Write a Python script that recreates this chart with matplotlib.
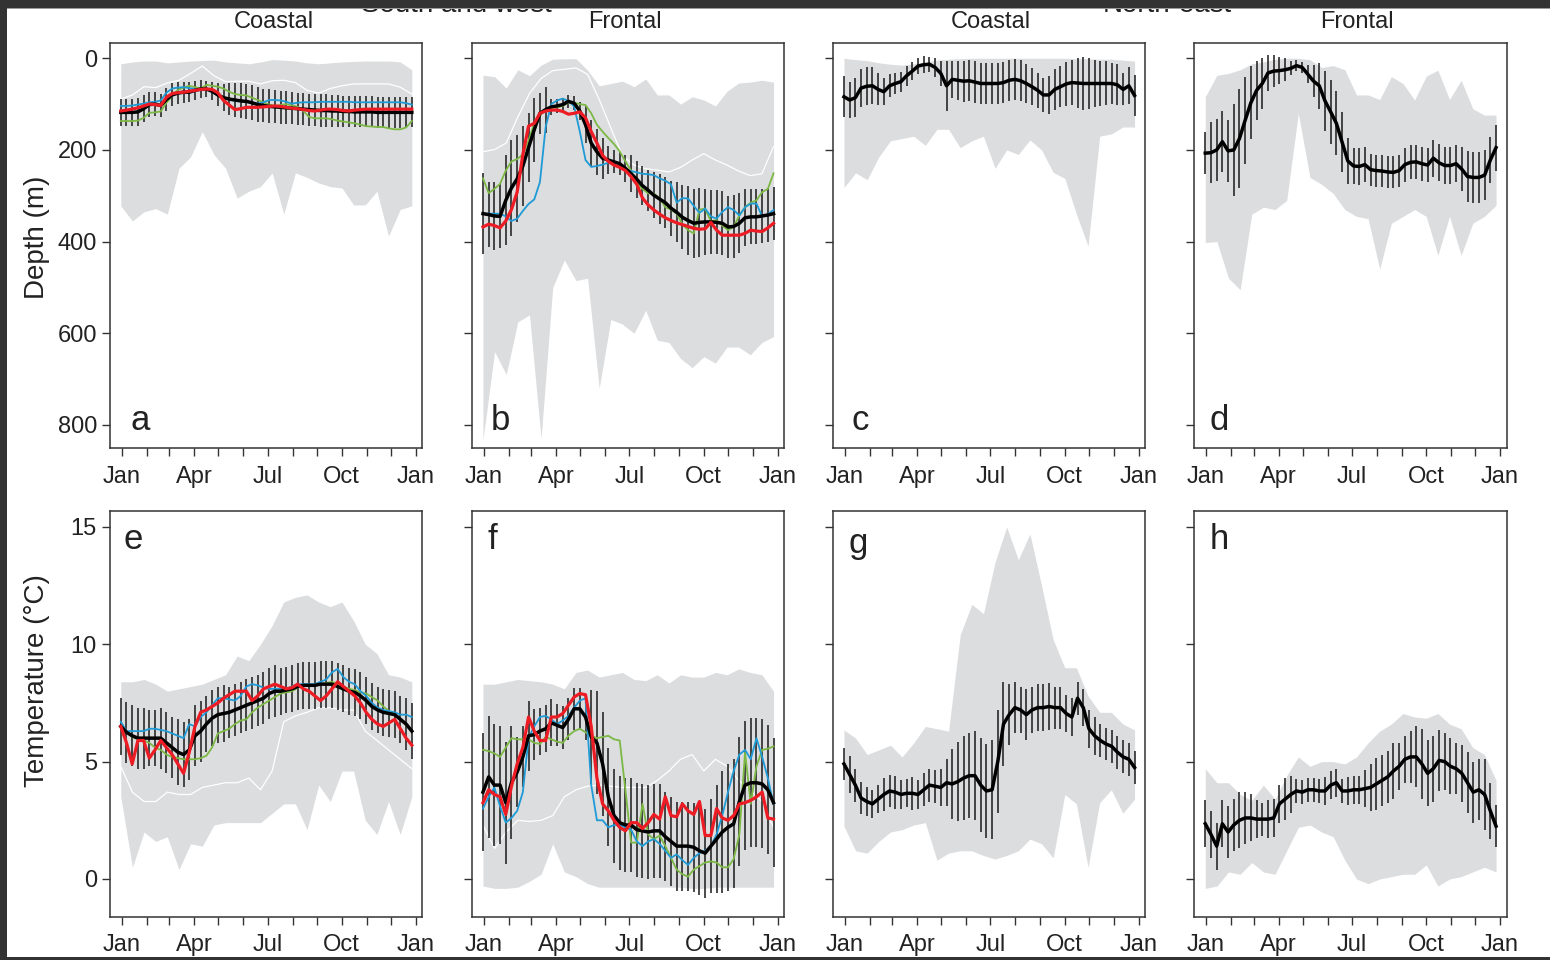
import numpy as np
import matplotlib
matplotlib.use('Agg')
import matplotlib.pyplot as plt
from matplotlib.patches import Rectangle

plt.rcParams['font.family'] = ['Liberation Sans', 'DejaVu Sans']

# ---------------- data ----------------
month_days = [0, 31, 59, 90, 120, 151, 181, 212, 243, 273, 304, 334, 365]
month_labels = ['Jan', '', '', 'Apr', '', '', 'Jul', '', '', 'Oct', '', '', 'Jan']
col_titles = ['Coastal', 'Frontal', 'Coastal', 'Frontal']
region_titles = ['South and west', 'North-east']
panel_letters = ['a', 'b', 'c', 'd', 'e', 'f', 'g', 'h']
depth_ticks = [0, 200, 400, 600, 800]
temp_ticks = [0, 5, 10, 15]

# weekly (52) black mean and error half-widths; biweekly (26) envelopes and white lines
# ---- a: depth, south & west coastal
black_a = [118,118,118,117,110,101,100,103,90,80, 76,74,74,70,67,67,72,80,86,89,
           91,93,94,97,101,103,105,106,107,108, 109,110,111,112,113,114,114,115,115,116,
           116,117,117,117,117,118,118,118,118,118, 118,118]
err_a = [30,30,30,30,29,28,27,26,25,25, 24,23,22,20,19,18,20,25,30,35,
         38,38,38,38,38,37,37,36,36,36, 35,35,35,35,35,35,35,35,34,34,
         34,34,34,34,34,34,34,34,34,34, 33,33]
blue_a = [104,104,103,101,99,96,95,92,75,66, 64,63,65,67,67,67,72,80,87,90,
          93,94,95,96,99,96,91,91,92,95, 99,97,96,96,96,95,95,95,95,95,
          95,96,96,96,96,96,96,96,96,96, 98,101]
green_a = [137,137,137,136,130,119,118,116,97,82, 69,64,60,63,66,58,60,62,66,73,
           78,80,81,86,91,96,101,104,102,100, 103,106,115,128,131,131,131,133,136,138,
           140,142,145,148,149,150,150,153,155,155, 151,137]
red_a = [115,113,111,108,104,100,101,103,85,77, 75,74,72,70,68,67,68,75,92,102,
         112,110,107,107,107,106,105,104,105,107, 109,110,112,114,115,113,111,111,112,114,
         115,113,112,111,111,111,111,111,111,111, 111,111]
white_a = [89,80,62,64,54,48,33,17,38,51, 50,50,56,49,48,53,70,76,66,60, 56,56,56,56,63,78]
lo_a = [12,8,6,6,10,8,6,5,4,8, 10,12,8,3,4,6,10,12,10,8, 7,6,6,6,8,25]
hi_a = [322,355,335,328,340,240,215,160,210,240, 305,290,280,250,340,250,260,272,280,283,
        320,320,290,388,330,322]

# ---- b: depth, south & west frontal
black_b = [339,341,344,345,310,283,263,235,195,156, 120,112,106,104,101,94,98,115,145,185,
           204,218,222,226,230,240,252,264,278,288, 299,307,315,327,336,347,354,360,358,357,
           357,358,360,368,367,360,348,346,346,344, 342,339]
err_b = [88,70,75,70,98,105,95,88,75,70, 45,50,18,15,15,14,15,20,40,50,
         50,45,30,25,25,30,40,40,42,45, 50,55,55,60,65,70,75,75,75,72,
         70,70,70,68,68,65,62,60,60,58, 58,58]
blue_b = [339,339,339,339,345,355,350,333,318,308, 270,150,100,92,88,93,105,160,222,237,
          235,232,228,230,238,243,246,249,252,253, 255,262,267,275,315,305,306,322,337,328,
          345,350,335,325,331,343,325,317,317,345, 340,331]
green_b = [262,294,285,274,245,225,220,210,180,142, 125,112,108,107,104,97,97,100,102,120,
           145,160,174,187,203,225,245,272,285,295, 295,305,325,330,339,362,375,382,330,328,
           356,353,365,375,368,343,325,315,310,292, 285,251]
red_b = [368,362,365,370,355,330,292,210,148,142, 120,115,113,113,116,122,120,117,130,160,
         185,212,225,233,238,245,258,275,305,320, 331,340,348,354,359,363,367,371,373,372,
         358,375,386,386,386,386,382,375,377,378, 370,360]
white_b = [204,199,185,128,77,44,27,24,21,35, 90,152,213,233,241,244,248,238,222,208,
           222,233,246,256,252,193]
lo_b = [37,40,65,25,38,15,2,1,1,26, 60,55,50,62,45,80,80,100,84,91, 104,72,54,52,48,52]
hi_b = [833,640,690,575,560,830,500,440,485,480, 720,570,580,600,550,615,620,655,675,651,
        665,630,630,647,620,607]

# ---- c: depth, north-east coastal
black_c = [84,91,86,65,61,60,68,73,60,55, 51,38,28,17,14,13,20,33,60,46,
           48,50,49,52,55,55,55,55,53,48, 46,49,55,62,70,80,80,68,62,56,
           53,54,55,55,55,55,55,55,58,68, 60,81]
err_c = [45,40,42,42,42,40,35,30,25,22, 22,22,20,18,18,16,20,28,55,40,
         42,45,45,45,45,45,45,45,45,45, 45,45,42,40,38,38,42,45,45,48,
         50,55,58,55,52,50,48,45,45,35, 40,45]
lo_c = [0,3,5,10,13,15,12,8,4,2, 1,0,0,0,0,0,0,0,0,0, 1,1,2,2,4,6]
hi_c = [282,250,265,215,180,175,170,190,155,155, 195,180,170,240,200,210,178,200,249,262,
        340,410,170,165,150,150]

# ---- d: depth, north-east frontal
black_d = [207,206,200,182,202,200,175,135,97,70, 55,32,28,27,25,22,16,20,35,50,
           60,93,117,142,183,224,235,236,232,243, 245,246,248,249,245,232,227,226,230,233,
           218,228,234,234,230,242,258,260,260,255, 222,195]
err_d = [46,67,67,67,67,100,107,95,80,65, 55,40,35,30,25,15,12,12,20,35,
         50,65,70,70,65,50,40,40,38,35, 35,35,35,35,35,37,37,37,37,37,
         40,40,40,40,40,48,55,55,55,55, 50,50]
lo_d = [84,37,33,25,12,8,2,0,0,3, 20,16,25,80,80,90,40,55,91,39, 26,90,48,110,124,124]
hi_d = [402,400,480,505,340,325,330,310,120,260, 275,295,330,345,350,460,360,345,330,345,
        430,345,430,360,345,321]

# ---- e: temperature, south & west coastal
black_e = [6.5,6.25,6.1,6.0,6.0,6.0,6.0,6.0,5.8,5.6, 5.4,5.3,5.5,6.1,6.3,6.6,6.85,7.0,7.05,7.1,
           7.2,7.3,7.4,7.5,7.6,7.7,7.9,8.0,8.0,8.05, 8.1,8.2,8.25,8.25,8.25,8.3,8.3,8.3,8.2,8.1,
           8.0,7.95,7.8,7.6,7.35,7.2,7.1,7.05,7.0,6.8, 6.6,6.3]
err_e = [1.2,1.3,1.3,1.3,1.3,1.2,1.2,1.3,1.3,1.3, 1.4,1.4,1.3,1.3,1.3,1.2,1.2,1.2,1.2,1.1,
         1.1,1.1,1.1,1.1,1.1,1.1,1.1,1.1,1.0,1.0, 1.0,1.0,1.0,1.0,1.0,1.0,1.0,1.0,1.0,1.0,
         1.0,1.0,1.0,1.0,1.0,1.0,1.0,1.0,1.0,1.0, 1.1,1.2]
blue_e = [6.7,6.3,6.3,6.3,6.3,6.4,6.4,6.35,6.3,6.2, 6.1,6.0,6.6,6.5,6.9,7.1,7.4,7.7,7.7,7.65,
          7.6,7.8,8.2,8.3,8.25,8.15,8.1,8.1,8.1,8.1, 8.2,8.3,8.3,8.3,8.3,8.4,8.5,8.8,8.95,8.6,
          8.4,8.3,8.0,7.8,7.5,7.3,7.2,7.15,7.1,7.0, 7.0,6.9]
green_e = [6.5,6.3,6.05,5.95,5.9,5.8,5.6,5.5,5.3,5.2, 5.15,5.1,5.1,5.1,5.15,5.25,5.6,6.2,6.3,6.4,
           6.6,6.75,6.8,7.1,7.3,7.45,7.6,7.75,7.9,7.95, 8.0,8.15,8.3,8.25,8.25,8.3,8.35,8.4,8.3,8.2,
           8.1,8.05,7.95,7.9,7.75,7.6,7.35,7.15,7.0,6.8, 6.55,6.3]
red_e = [6.5,5.8,4.9,5.9,5.9,5.15,5.5,5.9,5.6,5.3, 4.9,4.5,5.4,6.5,7.1,7.2,7.35,7.5,7.7,7.85,
         8.0,8.0,8.0,7.6,7.8,8.1,8.2,8.3,8.2,8.1, 8.15,8.3,8.1,8.0,7.8,7.6,7.8,8.1,8.4,8.2,
         8.0,7.8,7.5,7.1,6.8,6.6,6.5,6.65,6.8,6.4, 6.0,5.7]
white_e = [4.8,3.7,3.3,3.3,3.7,3.6,3.6,3.9,4.0,4.1, 4.1,4.3,3.8,4.6,6.7,6.95,7.1,7.3,7.3,7.2,
           7.2,6.3,5.9,5.5,5.1,4.7]
lo_e = [3.5,0.5,2.0,1.6,1.8,0.4,1.5,1.4,2.3,2.4, 2.4,2.4,2.4,2.8,3.2,3.2,2.1,4.0,3.3,4.6,
        4.6,2.5,1.9,3.3,1.9,3.5]
hi_e = [8.4,8.4,8.5,8.3,8.0,8.1,8.2,8.3,8.5,8.7, 9.5,9.3,10.0,10.8,11.8,12.0,12.1,11.8,11.6,11.8,
        11.0,10.0,9.6,8.7,8.6,8.4]

# ---- f: temperature, south & west frontal
black_f = [3.7,4.35,4.0,4.0,3.25,4.1,4.55,5.2,6.1,6.15, 6.3,6.4,6.65,6.55,6.45,6.8,7.25,7.25,6.9,6.05,
           5.8,4.9,3.5,2.7,2.4,2.3,2.3,2.1,2.05,2.0, 2.05,2.05,1.8,1.6,1.4,1.4,1.4,1.35,1.2,1.1,
           1.4,1.7,2.0,2.2,2.35,3.3,4.0,4.1,4.1,4.05, 3.8,3.25]
err_f = [2.5,2.6,2.6,2.5,2.6,2.4,1.5,1.3,1.5,1.1, 1.0,1.0,1.0,0.9,0.9,0.9,0.9,0.9,1.0,2.0,
         2.2,2.2,2.1,2.0,2.0,2.0,2.0,2.0,2.0,2.0, 2.0,2.0,1.9,1.9,1.9,1.9,1.9,1.9,1.9,1.9,
         2.0,2.3,2.6,2.7,2.75,2.75,2.75,2.75,2.75,2.75, 2.75,2.75]
blue_f = [3.0,3.5,3.9,3.1,2.4,2.6,2.9,3.7,6.0,6.5, 6.9,6.95,6.8,6.6,6.75,6.95,7.3,7.6,7.7,4.0,
          2.5,2.5,2.2,2.3,2.3,2.2,2.1,1.6,1.4,1.6, 1.7,1.5,1.2,0.9,1.05,0.8,0.6,0.9,1.1,1.2,
          1.4,1.9,2.7,3.7,4.6,5.3,5.5,5.1,6.0,5.2, 4.3,3.2]
green_f = [5.5,5.45,5.35,5.2,5.6,6.0,5.95,5.95,5.95,5.8, 5.75,6.05,5.95,5.85,5.8,6.1,6.3,6.4,6.25,6.1,
           6.0,6.05,6.1,5.95,5.9,3.8,1.55,1.55,3.2,1.9, 1.7,1.85,1.4,0.9,0.4,0.2,0.1,0.4,0.55,0.7,
           0.75,0.7,0.5,0.5,0.85,1.9,5.4,3.2,4.8,5.5, 5.55,5.65]
red_f = [3.25,3.8,3.6,3.5,2.75,3.95,4.9,5.6,6.9,6.3, 5.9,5.9,6.9,6.9,7.05,7.4,7.75,7.9,7.85,6.5,
         4.3,3.2,2.9,2.5,2.2,2.05,2.4,2.4,2.15,2.4, 2.75,2.55,3.5,2.7,2.65,3.2,2.9,2.75,3.3,1.85,
         1.85,3.0,2.6,2.5,2.7,3.2,3.25,3.35,3.5,3.7, 2.6,2.55]
white_f = [2.3,1.3,2.0,2.5,2.45,2.5,2.7,3.5,3.8,3.95, 4.0,3.95,3.9,3.9,3.9,4.2,4.6,5.1,5.3,4.6,
           5.1,4.8,4.2,3.8,3.3,2.2]
lo_f = [-0.3,-0.4,-0.4,-0.35,-0.1,0.2,1.5,0.3,0.1,-0.2, -0.35,-0.35,-0.35,-0.35,-0.35,-0.35,
        -0.35,-0.35,-0.4,-0.4, -0.35,-0.35,-0.35,-0.35,-0.35,-0.35]
hi_f = [8.3,8.3,8.4,8.5,8.45,8.4,8.3,8.1,8.8,8.9, 8.6,8.7,8.8,8.5,8.45,8.7,8.35,8.7,8.6,8.6,
        8.8,8.7,8.95,8.8,8.7,8.0]

# ---- g: temperature, north-east coastal
black_g = [4.9,4.45,4.0,3.45,3.3,3.2,3.4,3.6,3.75,3.7, 3.6,3.65,3.65,3.6,3.8,4.0,3.95,3.9,4.1,4.05,
           4.15,4.3,4.4,4.4,4.0,3.75,3.8,5.0,6.6,7.0, 7.3,7.2,7.0,7.2,7.3,7.3,7.35,7.3,7.3,7.05,
           6.9,7.7,7.3,6.4,6.1,5.9,5.75,5.65,5.4,5.2, 5.1,4.75]
err_g = [0.7,0.8,0.7,0.7,0.6,0.6,0.6,0.7,0.7,0.7, 0.6,0.6,0.7,0.6,0.7,0.7,0.7,0.8,1.0,1.5,
         1.7,1.8,1.8,1.9,2.0,2.0,2.1,2.2,1.8,1.3, 1.1,1.0,1.1,1.0,1.0,1.0,1.0,0.9,0.9,0.8,
         0.8,0.7,0.8,0.8,0.8,0.7,0.7,0.7,0.7,0.7, 0.7,0.7]
lo_g = [2.25,1.2,1.1,1.6,2.0,2.1,2.3,2.4,0.8,1.1, 1.2,1.2,1.0,0.85,1.0,1.2,1.7,1.5,0.9,3.6,
        3.2,0.5,3.25,3.8,2.8,3.4]
hi_g = [6.35,6.0,5.3,5.5,5.7,5.2,5.8,6.5,6.4,6.3, 10.4,11.7,11.3,13.5,15.0,13.6,14.7,12.5,10.2,9.0,
        9.0,7.8,7.1,7.1,6.6,6.35]

# ---- h: temperature, north-east frontal
black_h = [2.35,1.9,1.4,2.35,2.0,2.3,2.5,2.6,2.6,2.55, 2.55,2.55,2.6,3.2,3.4,3.6,3.75,3.7,3.8,3.8,
           3.75,3.75,4.0,4.1,3.75,3.75,3.8,3.8,3.85,3.9, 4.05,4.2,4.35,4.6,4.8,5.1,5.2,5.2,4.9,4.5,
           4.7,5.05,5.0,4.8,4.7,4.5,4.1,3.7,3.8,3.6, 2.9,2.25]
err_h = [1.0,1.0,1.0,1.0,1.1,1.1,1.2,1.1,1.0,0.8, 0.7,0.8,0.8,0.8,0.9,0.8,0.5,0.5,0.5,0.5,
         0.5,0.6,0.6,0.6,0.5,0.6,0.6,0.6,0.8,1.0, 1.1,1.1,1.1,1.2,1.0,1.0,1.1,1.3,1.5,1.4,
         1.4,1.3,1.2,1.2,1.1,1.2,1.3,1.3,1.3,1.5, 1.2,0.9]
lo_h = [-0.4,-0.3,0.3,0.2,0.7,0.3,0.2,1.2,2.2,2.3, 2.0,1.8,0.8,0.0,-0.2,0.0,0.1,0.2,0.2,0.6,
        -0.3,0.0,0.1,0.3,0.5,0.3]
hi_h = [4.7,4.1,4.1,3.6,3.35,4.0,3.4,4.4,5.2,4.8, 5.0,5.0,4.9,5.2,5.8,6.3,6.6,7.05,6.9,6.85,
        7.05,6.6,6.4,5.6,5.3,4.2]

# ---------------- styles / layout ----------------
W, H = 1550, 960
GRAY = '#dcdddf'
BLUE = '#1e9ad6'
GREEN = '#7cb844'
RED = '#ed1c24'
SPINE = '#333333'

week_x = np.linspace(-1, 360, 52)
fort_x = np.linspace(-1, 360, 26)

cols_px = [(109.5, 422.3), (471.7, 784.0), (832.7, 1145.0), (1194.0, 1506.5)]
rows_px = [(42.7, 448.3), (510.7, 917.0)]

fig = plt.figure(figsize=(W / 100, H / 100), dpi=100)
fig.patch.set_facecolor('white')

panels = [
    dict(mean=black_a, err=err_a, lo=lo_a, hi=hi_a, white=white_a, blue=blue_a, green=green_a, red=red_a),
    dict(mean=black_b, err=err_b, lo=lo_b, hi=hi_b, white=white_b, blue=blue_b, green=green_b, red=red_b),
    dict(mean=black_c, err=err_c, lo=lo_c, hi=hi_c),
    dict(mean=black_d, err=err_d, lo=lo_d, hi=hi_d),
    dict(mean=black_e, err=err_e, lo=lo_e, hi=hi_e, white=white_e, blue=blue_e, green=green_e, red=red_e),
    dict(mean=black_f, err=err_f, lo=lo_f, hi=hi_f, white=white_f, blue=blue_f, green=green_f, red=red_f),
    dict(mean=black_g, err=err_g, lo=lo_g, hi=hi_g),
    dict(mean=black_h, err=err_h, lo=lo_h, hi=hi_h),
]

letter_pos = [(0.066, 0.045), (0.062, 0.045), (0.06, 0.045), (0.05, 0.045),
              (0.045, 0.905), (0.05, 0.905), (0.05, 0.895), (0.05, 0.905)]

for k, p in enumerate(panels):
    r, c = divmod(k, 4)
    x0, x1 = cols_px[c]
    y0, y1 = rows_px[r]
    ax = fig.add_axes([x0 / W, 1 - y1 / H, (x1 - x0) / W, (y1 - y0) / H])

    mean = np.array(p['mean'], dtype=float)
    err = np.array(p['err'], dtype=float)
    ax.fill_between(fort_x, p['lo'], p['hi'], color=GRAY, lw=0, zorder=1)
    if 'white' in p:
        ax.plot(fort_x, p['white'], color='white', lw=0.9, zorder=2)
    ax.vlines(week_x, mean - err, mean + err, color='#1a1a1a', lw=1.1, zorder=3)
    if 'green' in p:
        ax.plot(week_x, p['green'], color=GREEN, lw=1.3, zorder=4)
        ax.plot(week_x, p['blue'], color=BLUE, lw=1.3, zorder=5)
    ax.plot(week_x, mean, color='black', lw=2.5, zorder=6)
    if 'red' in p:
        ax.plot(week_x, p['red'], color=RED, lw=2.3, zorder=7)

    ax.set_xlim(-15, 373)
    ax.set_xticks(month_days)
    ax.set_xticklabels(month_labels)
    if r == 0:
        ax.set_ylim(851, -34)
        ax.set_yticks(depth_ticks)
    else:
        ax.set_ylim(-1.62, 15.69)
        ax.set_yticks(temp_ticks)
    ax.tick_params(direction='out', length=6, width=1.0, color=SPINE,
                   labelsize=17, labelcolor='#222222')
    ax.tick_params(axis='x', pad=6.5)
    ax.tick_params(axis='y', pad=3, labelleft=(c == 0))
    for s in ax.spines.values():
        s.set_color(SPINE)
        s.set_linewidth(1.1)

    lx, ly = letter_pos[k]
    ax.text(lx, ly, panel_letters[k], transform=ax.transAxes, fontsize=25,
            color='#222222', ha='left', va='baseline', zorder=10)

# column titles
title_x = [274, 625, 991, 1357]
for t, xp in zip(col_titles, title_x):
    fig.text(xp / W, 1 - 22 / H, t, ha='center', va='center', fontsize=17, color='#222222')

# y labels
fig.text(37 / W, 1 - 237 / H, 'Depth (m)', rotation=90, ha='center', va='center',
         fontsize=20, color='#222222')
fig.text(37 / W, 1 - 681 / H, 'Temperature (°C)', rotation=90, ha='center', va='center',
         fontsize=20, color='#222222')

# region titles, mostly hidden under the screenshot's dark frame as in the reference
for t, xp in zip(region_titles, [456, 1167]):
    fig.text(xp / W, 1 - 11.5 / H, t, ha='center', va='baseline', fontsize=20,
             color='#222222', zorder=1)

# dark screenshot frame
frame = '#333333'
fig.add_artist(Rectangle((0, 1 - 7.5 / H), 1, 7.5 / H, transform=fig.transFigure,
                         facecolor=frame, edgecolor='none', zorder=50))
fig.add_artist(Rectangle((0, 1 - 8.8 / H), 1, 1.3 / H, transform=fig.transFigure,
                         facecolor='#9a9a9a', edgecolor='none', zorder=49))
fig.add_artist(Rectangle((0, 0), 7.3 / W, 1, transform=fig.transFigure,
                         facecolor=frame, edgecolor='none', zorder=50))
fig.add_artist(Rectangle((0, 0), 1, 3.5 / H, transform=fig.transFigure,
                         facecolor=frame, edgecolor='none', zorder=50))

fig.savefig('out.png', dpi=100, facecolor=fig.get_facecolor())
